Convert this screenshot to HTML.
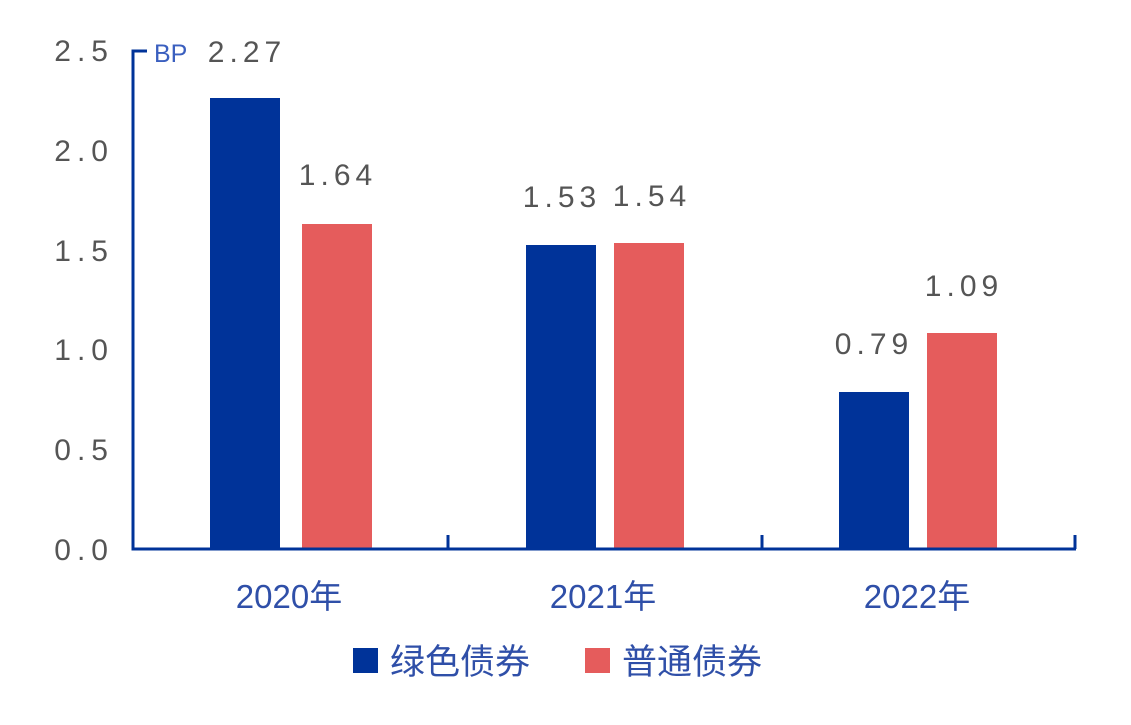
<!DOCTYPE html>
<html><head><meta charset="utf-8"><style>
body{margin:0;background:#fff;}
svg text{font-family:"Liberation Sans","Noto Sans CJK SC",sans-serif;}
</style></head><body>
<svg width="1131" height="720" viewBox="0 0 1131 720">
<rect width="1131" height="720" fill="#fff"/>
<g fill="#555" font-size="30" text-anchor="end" letter-spacing="6">
<text x="114" y="61">2.5</text>
<text x="114" y="161">2.0</text>
<text x="114" y="261">1.5</text>
<text x="114" y="360">1.0</text>
<text x="114" y="460">0.5</text>
<text x="114" y="560">0.0</text>
</g>
<text x="154" y="62" fill="#3a5fbf" font-size="25">BP</text>
<g fill="#003399">
<rect x="210" y="98" width="70" height="451"/>
<rect x="526" y="245" width="70" height="304"/>
<rect x="839" y="392" width="70" height="157"/>
</g>
<g fill="#e55c5c">
<rect x="302" y="224" width="70" height="325"/>
<rect x="614" y="243" width="70" height="306"/>
<rect x="927" y="333" width="70" height="216"/>
</g>
<g stroke="#003399" stroke-width="3" fill="none">
<path d="M147 51 H133 V549 H1076"/>
<path d="M448 549 V535 M762 549 V535 M1075 549 V535"/>
</g>
<g fill="#555" font-size="30" text-anchor="middle" letter-spacing="5">
<text x="247" y="62">2.27</text>
<text x="338" y="185">1.64</text>
<text x="562" y="207">1.53</text>
<text x="652" y="206">1.54</text>
<text x="874" y="354">0.79</text>
<text x="964" y="296">1.09</text>
</g>
<g fill="#2f4fa8" font-size="33" text-anchor="middle">
<text x="289" y="608">2020年</text>
<text x="603" y="608">2021年</text>
<text x="917" y="608">2022年</text>
</g>
<rect x="353" y="648" width="25" height="25" fill="#003399"/>
<text x="390" y="674" fill="#2f4fa8" font-size="35">绿色债券</text>
<rect x="585" y="648" width="25" height="25" fill="#e55c5c"/>
<text x="622" y="674" fill="#2f4fa8" font-size="35">普通债券</text>
</svg>
</body></html>
